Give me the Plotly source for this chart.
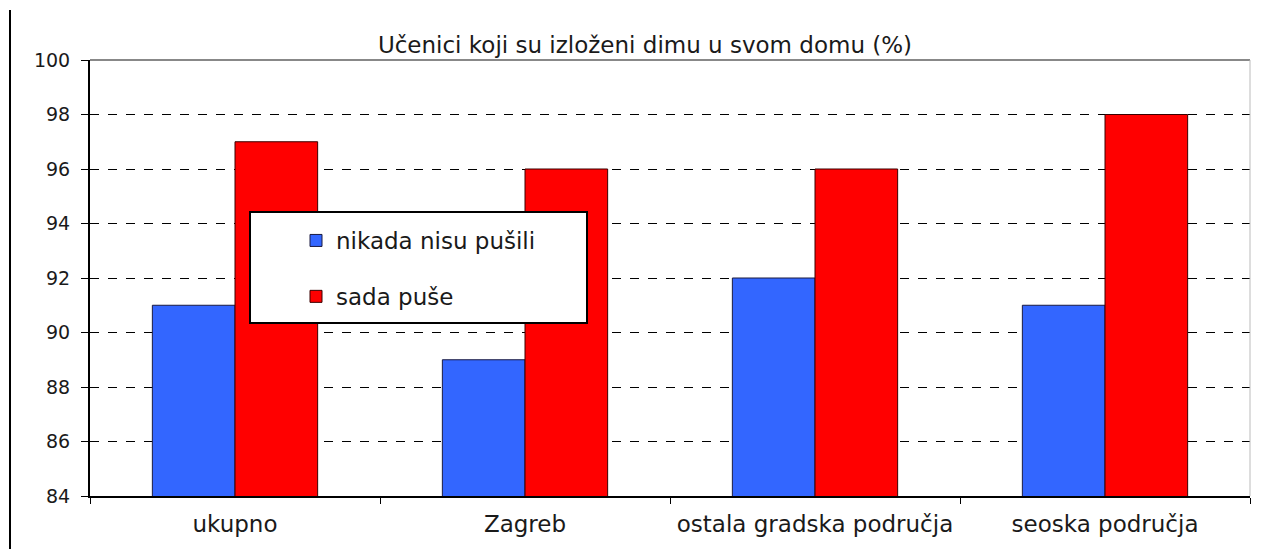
import plotly.graph_objects as go

categories = ["ukupno", "Zagreb", "ostala gradska područja", "seoska područja"]
never_smoked = [91, 89, 92, 91]
smoke_now = [97, 96, 96, 98]
series_names = ["nikada nisu pušili", "sada puše"]
y_ticks = [84, 86, 88, 90, 92, 94, 96, 98, 100]
title_text = "Učenici koji su izloženi dimu u svom domu (%)"

# page has an 8px body margin; work in reference pixel coordinates
OFF = 8
W, H = 1269 - OFF, 549 - OFF
PL, PR, PT, PB = 90, 1250, 60, 496  # plot area in reference coords
L, T = PL - OFF, PT - OFF
R, B = W - (PR - OFF), H - (PB - OFF)
pw, ph = PR - PL, PB - PT

def px(x):
    return (x - PL) / pw

def py(y):
    return (PB - y) / ph

font = "DejaVu Sans, Verdana, sans-serif"
txt = "#1a1a1a"

fig = go.Figure()
fig.add_trace(go.Bar(x=categories, y=never_smoked, name=series_names[0],
                     marker=dict(color="#3366FF", line=dict(color="#1a1a40", width=1)),
                     legendgroup="a"))
fig.add_trace(go.Bar(x=categories, y=smoke_now, name=series_names[1],
                     marker=dict(color="#FF0000", line=dict(color="#3a0000", width=1)),
                     legendgroup="b"))

fig.update_layout(
    width=W, height=H,
    margin=dict(l=L, r=R, t=T, b=B, pad=0),
    paper_bgcolor="white", plot_bgcolor="white",
    barmode="group", bargap=0.43, bargroupgap=0,
    font=dict(family=font, color=txt, size=19),
    title=dict(text=title_text, x=px(645), xref="paper", xanchor="center",
               y=1 - (45 - OFF) / H, yref="container", yanchor="middle",
               font=dict(size=23, color=txt)),
    showlegend=True,
    legend=dict(x=px(296), y=py(219), xanchor="left", yanchor="top",
                bgcolor="rgba(0,0,0,0)", borderwidth=0,
                font=dict(size=23, color=txt),
                traceorder="grouped", tracegroupgap=23),
    xaxis=dict(showline=True, linecolor="black", linewidth=2,
               ticks="outside", ticklen=6, tickcolor="black", tickwidth=1,
               tickson="boundaries", showgrid=False, ticklabelstandoff=6,
               tickfont=dict(size=23, color=txt)),
    yaxis=dict(range=[84, 100], tickvals=y_ticks, showline=True, linecolor="black",
               linewidth=2, ticks="outside", ticklen=7, tickcolor="black",
               showgrid=True, gridcolor="black", griddash="dash", gridwidth=1,
               zeroline=False, ticklabelstandoff=7,
               tickfont=dict(size=19, color=txt)),
    shapes=[
        dict(type="line", xref="paper", yref="paper", x0=0, x1=1, y0=1, y1=1,
             line=dict(color="#888888", width=2), layer="above"),
        dict(type="line", xref="paper", yref="paper", x0=1, x1=1, y0=0, y1=1,
             line=dict(color="#bbbbbb", width=1), layer="above"),
        dict(type="rect", xref="paper", yref="paper",
             x0=px(250), x1=px(587), y0=py(323), y1=py(212),
             fillcolor="white", line=dict(color="black", width=2), layer="above"),
        dict(type="line", xref="paper", yref="paper", x0=px(10), x1=px(10),
             y0=py(549), y1=py(10), line=dict(color="black", width=2), layer="above"),
    ],
)

fig.write_html("out.html")
